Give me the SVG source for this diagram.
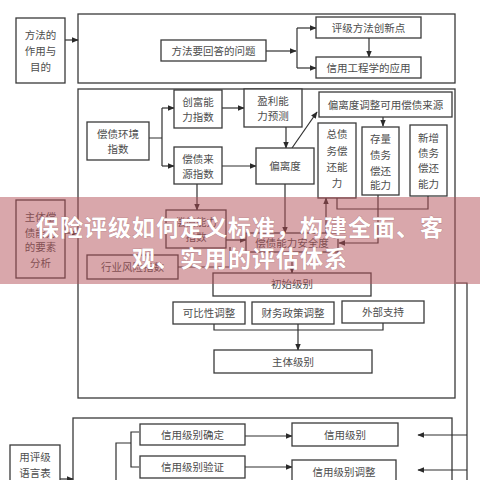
<svg xmlns="http://www.w3.org/2000/svg" width="480" height="480" viewBox="0 0 480 480">
<defs>
<marker id="ah" viewBox="0 0 10 10" refX="9" refY="5" markerWidth="7" markerHeight="7" orient="auto" markerUnits="userSpaceOnUse"><path d="M0,1 L10,5 L0,9 z" fill="#2a2a2a"/></marker>
<style>
.f{fill:none;stroke:#3a3a3a;stroke-width:1.3}
.b{fill:#fff;stroke:#3a3a3a;stroke-width:1.3}
.t{font-family:"Noto Sans CJK SC","Noto Sans",sans-serif;font-size:10.5px;fill:#4d4d4d;text-anchor:middle}
.c{fill:none;stroke:#2f2f2f;stroke-width:1.2}
.a{fill:none;stroke:#2f2f2f;stroke-width:1.2;marker-end:url(#ah)}
.h{font-family:"Noto Sans CJK SC",sans-serif;font-size:23px;font-weight:bold;fill:#fff;text-anchor:middle;letter-spacing:1px;stroke:#b07a7e;stroke-width:0.6px;paint-order:stroke}
</style>
</defs>
<rect width="480" height="480" fill="#fff"/>
<g id="frames">
<rect class="f" x="78" y="14" width="377" height="69"/>
<rect class="f" x="78" y="89" width="377" height="309"/>
<rect class="f" x="73" y="418" width="379" height="80"/>
</g>
<g id="connectors">
<path class="a" d="M65,40 H78"/>
<path class="a" d="M266,51 H296"/>
<path class="c" d="M297,28 V68"/>
<path class="a" d="M297,28 H316"/>
<path class="a" d="M297,68 H316"/>
<path class="a" d="M369,38 V57"/>
<path class="c" d="M149,138 H162 M162,108 V166"/>
<path class="a" d="M162,108 H174"/>
<path class="a" d="M162,166 H174"/>
<path class="a" d="M222,108 H244"/>
<path class="a" d="M222,166 H256"/>
<path class="a" d="M286,127 V148"/>
<path class="a" d="M292,148 L317,112"/>
<path class="a" d="M383,117 V126"/>
<path class="a" d="M65,233 H78"/>
<path class="a" d="M197,184 V210"/>
<path class="a" d="M226,240 H246"/>
<path class="a" d="M285,184 V233"/>
<path class="a" d="M326,233 V198"/>
<path class="c" d="M337,198 V209 H428 V196"/>
<path class="a" d="M378,195 V243 H339"/>
<path class="c" d="M178,267 H230 V247"/>
<path class="a" d="M292,252 V273"/>
<path class="c" d="M214,324 V330 H383 V323"/>
<path class="a" d="M298,324 V350"/>
<path class="c" d="M456,283 H467 V480"/>
<path class="a" d="M467,435 H418"/>
<path class="a" d="M467,470 H418"/>
<path class="a" d="M60,479 H73"/>
<path class="c" d="M116,480 V443 H131 M139,432 H131 V467 H139"/>
<path class="a" d="M245,436 H292"/>
<path class="a" d="M245,467 H292"/>
</g>
<g id="n1"><rect class="b" x="16" y="18" width="49" height="65"/><text class="t" x="40.5" y="39">方法的</text><text class="t" x="40.5" y="55">作用与</text><text class="t" x="40.5" y="71">目的</text></g>
<g id="n2"><rect class="b" x="161" y="40" width="105" height="21"/><text class="t" x="213.5" y="54.5">方法要回答的问题</text></g>
<g id="n3"><rect class="b" x="316" y="17" width="105" height="21"/><text class="t" x="368.5" y="31.5">评级方法创新点</text></g>
<g id="n4"><rect class="b" x="316" y="57" width="105" height="21"/><text class="t" x="368.5" y="71.5">信用工程学的应用</text></g>
<g id="n5"><rect class="b" x="87" y="122" width="62" height="38"/><text class="t" x="118" y="138">偿债环境</text><text class="t" x="118" y="153">指数</text></g>
<g id="n6"><rect class="b" x="174" y="90" width="48" height="38"/><text class="t" x="198" y="106">创富能</text><text class="t" x="198" y="121">力指数</text></g>
<g id="n7"><rect class="b" x="174" y="147" width="48" height="37"/><text class="t" x="198" y="163">偿债来</text><text class="t" x="198" y="178">源指数</text></g>
<g id="n8"><rect class="b" x="244" y="89" width="58" height="38"/><text class="t" x="273" y="105">盈利能</text><text class="t" x="273" y="120">力预测</text></g>
<g id="n9"><rect class="b" x="256" y="148" width="58" height="36"/><text class="t" x="285" y="170">偏离度</text></g>
<g id="n10"><rect class="b" x="319" y="92" width="133" height="25"/><text class="t" x="385.5" y="108.5">偏离度调整可用偿债来源</text></g>
<g id="n11"><rect class="b" x="318" y="123" width="38" height="75"/><text class="t" x="337" y="138">总债</text><text class="t" x="337" y="155">务偿</text><text class="t" x="337" y="171">还能</text><text class="t" x="337" y="187">力</text></g>
<g id="n12"><rect class="b" x="362" y="127" width="37" height="68"/><text class="t" x="380.5" y="143">存量</text><text class="t" x="380.5" y="159">债务</text><text class="t" x="380.5" y="175">偿还</text><text class="t" x="380.5" y="189">能力</text></g>
<g id="n13"><rect class="b" x="410" y="125" width="37" height="71"/><text class="t" x="428.5" y="142">新增</text><text class="t" x="428.5" y="157">债务</text><text class="t" x="428.5" y="172">偿还</text><text class="t" x="428.5" y="188">能力</text></g>
<g id="n14"><rect class="b" x="16" y="200" width="49" height="78"/><text class="t" x="40.5" y="221">主体偿</text><text class="t" x="40.5" y="237">债能力</text><text class="t" x="40.5" y="251">的要素</text><text class="t" x="40.5" y="267">分析</text></g>
<g id="n15"><rect class="b" x="166" y="210" width="60" height="38"/><text class="t" x="196" y="226">偿债能力</text><text class="t" x="196" y="241">指数</text></g>
<g id="n16"><rect class="b" x="246" y="233" width="92" height="19"/><text class="t" x="292" y="246.5">偿债能力安全度</text></g>
<g id="n17"><rect class="b" x="87" y="255" width="91" height="24"/><text class="t" x="132.5" y="271">行业风险指数</text></g>
<g id="n18"><rect class="b" x="213" y="273" width="158" height="23"/><text class="t" x="292" y="288">初始级别</text></g>
<g id="n19"><rect class="b" x="173" y="302" width="72" height="22"/><text class="t" x="209" y="317">可比性调整</text></g>
<g id="n20"><rect class="b" x="252" y="302" width="82" height="22"/><text class="t" x="293" y="317">财务政策调整</text></g>
<g id="n21"><rect class="b" x="342" y="301" width="82" height="22"/><text class="t" x="383" y="316">外部支持</text></g>
<g id="n22"><rect class="b" x="214" y="350" width="158" height="23"/><text class="t" x="293" y="365.5">主体级别</text></g>
<g id="n23"><rect class="b" x="10" y="445" width="50" height="45"/><text class="t" x="35" y="461">用评级</text><text class="t" x="35" y="477">语言表</text></g>
<g id="n24"><rect class="b" x="140" y="424" width="105" height="21"/><text class="t" x="192.5" y="438.5">信用级别确定</text></g>
<g id="n25"><rect class="b" x="140" y="456" width="105" height="22"/><text class="t" x="192.5" y="471">信用级别验证</text></g>
<g id="n26"><rect class="b" x="292" y="423" width="106" height="23"/><text class="t" x="345" y="438.5">信用级别</text></g>
<g id="n27"><rect class="b" x="292" y="460" width="104" height="30"/><text class="t" x="344" y="476">信用级别调整</text></g>
<g id="banner">
<rect x="0" y="197" width="480" height="87" fill="rgb(180,80,88)" fill-opacity="0.5"/>
<text class="h" x="240" y="236">保险评级如何定义标准，构建全面、客</text>
<text class="h" x="240" y="267">观、实用的评估体系</text>
</g>
</svg>
